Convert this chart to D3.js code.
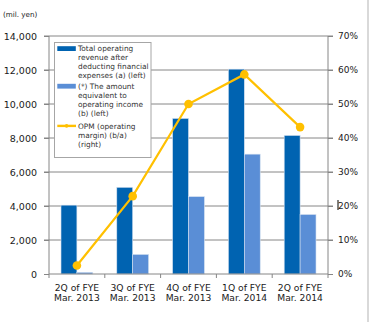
<!DOCTYPE html>
<html>
<head>
<meta charset="utf-8">
<script src="https://cdn.jsdelivr.net/npm/d3@7"></script>
<style>
    body { margin: 0; background: #fff; }
    text { font-family: "DejaVu Sans", Verdana, sans-serif; }
</style>
</head>
<body>
<div id="chart"></div>
<script>
// podaci
const kategorije = ["2Q of FYE|Mar. 2013", "3Q of FYE|Mar. 2013", "4Q of FYE|Mar. 2013", "1Q of FYE|Mar. 2014", "2Q of FYE|Mar. 2014"];
const prihodi = [4050, 5100, 9150, 12050, 8150];     // (a) mil. yen
const dobit = [100, 1150, 4550, 7050, 3500];          // (b) mil. yen
const marza = [2.5, 22.9, 50.0, 58.7, 43.2];          // OPM %
const lijeveOznake = [0, 2000, 4000, 6000, 8000, 10000, 12000, 14000];
const desneOznake = [0, 10, 20, 30, 40, 50, 60, 70];
const legenda = [
    { tip: "bar", boja: "#0063b1", redovi: ["Total operating", "revenue after", "deducting financial", "expenses (a) (left)"] },
    { tip: "bar", boja: "#5a8ed6", redovi: ["(*) The amount", "equivalent to", "operating income", "(b) (left)"] },
    { tip: "line", boja: "#ffc000", redovi: ["OPM (operating", "margin) (b/a)", "(right)"] },
];

const dim = { sirina: 372, visina: 322, lijevo: 49, desno: 328, gore: 36, dolje: 274 };
const siva = "#868686";

const svg = d3.select("#chart").append("svg")
    .attr("width", dim.sirina)
    .attr("height", dim.visina);

// skale
const x0 = d3.scaleBand()
    .domain(kategorije)
    .range([dim.lijevo, dim.desno])
    .paddingInner(0.43)
    .paddingOuter(0.215);
const x1 = d3.scaleBand()
    .domain(["a", "b"])
    .range([0, x0.bandwidth()]);
const yL = d3.scaleLinear().domain([0, 14000]).range([dim.dolje, dim.gore]);
const yD = d3.scaleLinear().domain([0, 70]).range([dim.dolje, dim.gore]);
const sredina = d => x0(d) + x0.bandwidth() / 2;

// mreza
svg.append("g")
    .selectAll("line")
    .data(lijeveOznake.slice(1))
    .join("line")
    .attr("x1", dim.lijevo - 5)
    .attr("x2", dim.desno + 5)
    .attr("y1", d => yL(d))
    .attr("y2", d => yL(d))
    .attr("stroke", siva)
    .attr("stroke-width", 1);

// stupci
const grupe = svg.append("g")
    .selectAll("g")
    .data(kategorije)
    .join("g")
    .attr("transform", d => `translate(${x0(d)},0)`);

grupe.append("rect")
    .attr("x", x1("a"))
    .attr("y", (d, i) => yL(prihodi[i]))
    .attr("width", x1.bandwidth())
    .attr("height", (d, i) => yL(0) - yL(prihodi[i]))
    .attr("fill", legenda[0].boja)
    .attr("stroke", "#d5e1f0")
    .attr("stroke-width", 0.6);

grupe.append("rect")
    .attr("x", x1("b"))
    .attr("y", (d, i) => yL(dobit[i]))
    .attr("width", x1.bandwidth())
    .attr("height", (d, i) => yL(0) - yL(dobit[i]))
    .attr("fill", legenda[1].boja)
    .attr("stroke", "#d5e1f0")
    .attr("stroke-width", 0.6);

// osi
const lijevaOs = svg.append("g")
    .attr("transform", `translate(${dim.lijevo},0)`)
    .call(d3.axisLeft(yL).tickValues(lijeveOznake).tickFormat(d3.format(",")).tickSize(5).tickPadding(7));
const desnaOs = svg.append("g")
    .attr("transform", `translate(${dim.desno},0)`)
    .call(d3.axisRight(yD).tickValues(desneOznake).tickFormat(d => d + "%").tickSize(5).tickPadding(5));

[lijevaOs, desnaOs].forEach(os => {
    os.select(".domain").attr("stroke", siva).attr("d", os === lijevaOs
        ? `M0,${dim.gore}V${dim.dolje}` : `M0,${dim.gore}V${dim.dolje}`);
    os.selectAll(".tick line").attr("stroke", siva);
    os.selectAll(".tick text").attr("fill", "#1a1a1a").style("font-size", "9.5px");
});
desnaOs.selectAll(".tick text").style("font-size", "9px");

// x os
const korak = x0.step();
svg.append("line")
    .attr("x1", dim.lijevo).attr("x2", dim.desno)
    .attr("y1", dim.dolje).attr("y2", dim.dolje)
    .attr("stroke", siva);
svg.append("g")
    .selectAll("line")
    .data(d3.range(kategorije.length + 1))
    .join("line")
    .attr("x1", i => dim.lijevo + i * korak)
    .attr("x2", i => dim.lijevo + i * korak)
    .attr("y1", dim.dolje)
    .attr("y2", dim.dolje + 4)
    .attr("stroke", siva);

const xOznake = svg.append("g")
    .selectAll("text")
    .data(kategorije)
    .join("text")
    .attr("x", d => sredina(d))
    .attr("y", dim.dolje + 16.5)
    .attr("text-anchor", "middle")
    .attr("fill", "#1a1a1a")
    .style("font-size", "9.2px");
xOznake.selectAll("tspan")
    .data(d => d.split("|").map(t => ({ t, x: sredina(d) })))
    .join("tspan")
    .attr("x", d => d.x)
    .attr("dy", (d, i) => i === 0 ? 0 : 10.4)
    .text(d => d.t);

// linija marze
const linija = d3.line()
    .x((d, i) => sredina(kategorije[i]))
    .y(d => yD(d));
svg.append("path")
    .datum(marza)
    .attr("d", linija)
    .attr("fill", "none")
    .attr("stroke", legenda[2].boja)
    .attr("stroke-width", 2.2);
svg.append("g")
    .selectAll("circle")
    .data(marza)
    .join("circle")
    .attr("cx", (d, i) => sredina(kategorije[i]))
    .attr("cy", d => yD(d))
    .attr("r", 4.3)
    .attr("fill", legenda[2].boja);

// legenda
const leg = svg.append("g");
leg.append("rect")
    .attr("x", 54.5).attr("y", 42.5)
    .attr("width", 96.5).attr("height", 115)
    .attr("fill", "#fff")
    .attr("stroke", "#a6a6a6");
const pocetci = [48.7, 86.3, 125.9];
legenda.forEach((s, k) => {
    const y0 = pocetci[k];
    if (s.tip === "bar") {
        leg.append("rect")
            .attr("x", 57.3).attr("y", y0 - 2.5)
            .attr("width", 18.5).attr("height", 4.8)
            .attr("fill", s.boja);
    } else {
        leg.append("line")
            .attr("x1", 57.3).attr("x2", 76)
            .attr("y1", y0).attr("y2", y0)
            .attr("stroke", s.boja).attr("stroke-width", 2.4);
        leg.append("circle")
            .attr("cx", 66.6).attr("cy", y0).attr("r", 1.8)
            .attr("fill", s.boja);
    }
    leg.append("g")
        .selectAll("text")
        .data(s.redovi)
        .join("text")
        .attr("x", 78)
        .attr("y", (d, i) => y0 + 2.7 + i * 9)
        .attr("fill", "#333")
        .style("font-size", "7.4px")
        .text(d => d);
});

// jedinica
svg.append("text")
    .attr("x", 3).attr("y", 16.5)
    .attr("fill", "#1a1a1a")
    .style("font-size", "7.2px")
    .text("(mil. yen)");

// oznaka kraj 20%
svg.append("line")
    .attr("x1", 338).attr("x2", 338)
    .attr("y1", yD(20) - 6).attr("y2", yD(20) + 4)
    .attr("stroke", "#000").attr("stroke-width", 1);

// desni rub
svg.append("line")
    .attr("x1", 368).attr("x2", 368)
    .attr("y1", 0).attr("y2", dim.visina)
    .attr("stroke", "#d9d9d9").attr("stroke-width", 2);
</script>
</body>
</html>
